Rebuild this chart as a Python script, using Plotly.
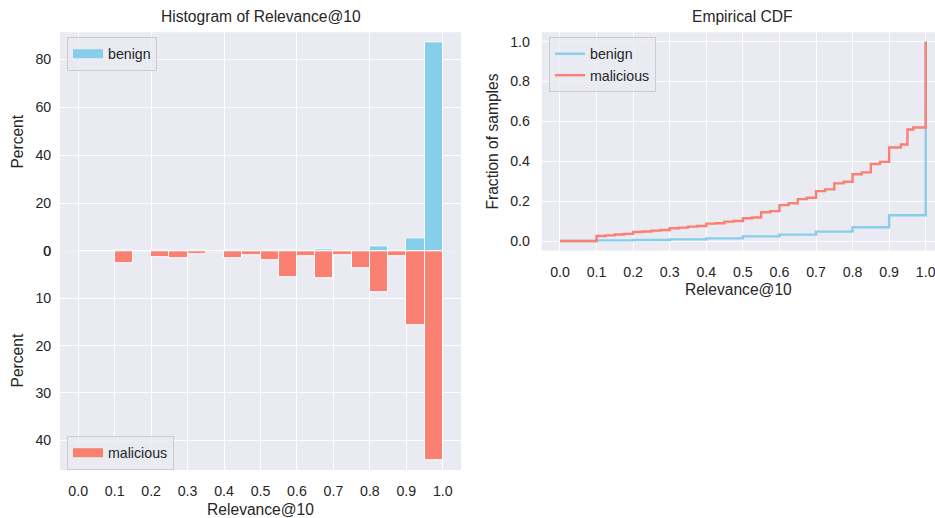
import plotly.graph_objects as go

# ---------------- data ----------------
bin_left = [0.00, 0.05, 0.10, 0.15, 0.20, 0.25, 0.30, 0.35, 0.40, 0.45,
            0.50, 0.55, 0.60, 0.65, 0.70, 0.75, 0.80, 0.85, 0.90, 0.95]
bin_width = 0.05
benign_pct = [0, 0, 0.3, 0, 0.2, 0, 0.3, 0, 0.4, 0,
              0.4, 0.4, 0, 0.9, 0, 0, 2.0, 0, 5.5, 86.9]
malicious_pct = [0, 0, 2.6, 0, 1.2, 1.5, 0.6, 0.2, 1.5, 0.85,
                 1.8, 5.5, 1.05, 5.7, 0.85, 3.6, 8.6, 1.05, 15.6, 44.2]

ecdf_benign_x = [0.0, 0.1, 0.2, 0.3, 0.4, 0.5, 0.6, 0.7, 0.8, 0.9, 1.0]
ecdf_benign_y = [0.0, 0.003, 0.005, 0.008, 0.013, 0.023, 0.032, 0.047, 0.069, 0.129, 1.0]

ecdf_mal_x = [0.0, 0.1, 0.125, 0.15, 0.175, 0.2, 0.225, 0.25, 0.275, 0.3, 0.325,
              0.35, 0.375, 0.4, 0.425, 0.45, 0.475, 0.5, 0.525, 0.55, 0.575,
              0.6, 0.625, 0.65, 0.675, 0.7, 0.725, 0.75, 0.775, 0.8, 0.825,
              0.85, 0.875, 0.9, 0.932, 0.95, 0.966, 1.0]
ecdf_mal_y = [0.0, 0.025, 0.028, 0.033, 0.036, 0.045, 0.048, 0.052, 0.055, 0.064, 0.067,
              0.072, 0.075, 0.087, 0.089, 0.097, 0.100, 0.114, 0.118, 0.144, 0.150,
              0.180, 0.189, 0.210, 0.217, 0.250, 0.259, 0.289, 0.297, 0.335, 0.344,
              0.386, 0.397, 0.469, 0.484, 0.559, 0.569, 1.0]

x_ticks_hist = [0.0, 0.1, 0.2, 0.3, 0.4, 0.5, 0.6, 0.7, 0.8, 0.9, 1.0]
x_ticks_top = [0.0, 0.2, 0.4, 0.6, 0.8, 1.0]
y_ticks_top = [0, 20, 40, 60, 80]
y_ticks_bottom = [0, 10, 20, 30, 40]
y_ticks_cdf = [0.0, 0.2, 0.4, 0.6, 0.8, 1.0]

# ---------------- style ----------------
W, H = 935, 518
BLUE = "#87CEEB"
RED = "#FA8072"
BG = "#EAEAF2"
TXT = "#262626"
FONT = "Liberation Sans, Arial, sans-serif"
TICK = 14.2
LAB = 15.6

def px_x(p):
    return p / W

def px_y(p):
    return 1 - p / H

centers = [b + bin_width / 2 for b in bin_left]

fig = go.Figure()

fig.add_trace(go.Bar(x=centers, y=benign_pct, width=bin_width,
                     marker=dict(color=BLUE, line=dict(color="white", width=1)),
                     xaxis="x", yaxis="y", showlegend=False, hoverinfo="skip"))
fig.add_trace(go.Bar(x=centers, y=malicious_pct, width=bin_width,
                     marker=dict(color=RED, line=dict(color="white", width=1)),
                     xaxis="x2", yaxis="y2", showlegend=False, hoverinfo="skip"))
# legend entries for the histograms (patch-like)
fig.add_trace(go.Scatter(x=[None], y=[None], mode="lines", name="benign",
                         line=dict(color=BLUE, width=9), xaxis="x", yaxis="y",
                         legend="legend"))
fig.add_trace(go.Scatter(x=[None], y=[None], mode="lines", name="malicious",
                         line=dict(color=RED, width=9), xaxis="x2", yaxis="y2",
                         legend="legend2"))

fig.add_trace(go.Scatter(x=ecdf_benign_x, y=ecdf_benign_y, mode="lines",
                         line=dict(color=BLUE, width=2.4, shape="hv"), name="benign",
                         xaxis="x3", yaxis="y3", legend="legend3", hoverinfo="skip"))
fig.add_trace(go.Scatter(x=ecdf_mal_x, y=ecdf_mal_y, mode="lines",
                         line=dict(color=RED, width=2.4, shape="hv"), name="malicious",
                         xaxis="x3", yaxis="y3", legend="legend3", hoverinfo="skip"))

left_dom = [px_x(60), px_x(461)]
right_dom = [px_x(541.7), 1.0]
mid = 251.2

common = dict(showgrid=True, gridcolor="white", gridwidth=1.2, zeroline=False,
              showline=False, tickcolor="rgba(0,0,0,0)", automargin=False,
              tickfont=dict(size=TICK, color=TXT, family=FONT))
lab_font = dict(size=LAB, color=TXT, family=FONT)

legend_common = dict(bgcolor="rgba(234,234,242,0.8)", bordercolor="#CCCCCC", borderwidth=1,
                     font=dict(size=TICK, color=TXT, family=FONT),
                     xanchor="left", yanchor="top", itemwidth=30,
                     tracegroupgap=2)

fig.update_layout(
    width=W, height=H,
    margin=dict(l=0, r=0, t=0, b=0, autoexpand=False),
    paper_bgcolor="white", plot_bgcolor=BG,
    font=dict(family=FONT, color=TXT),
    barmode="overlay", bargap=0,
    xaxis=dict(domain=left_dom, range=[-0.05, 1.05], tickvals=x_ticks_top,
               showticklabels=False, anchor="y", ticks="", **common),
    yaxis=dict(domain=[px_y(mid), px_y(32.3)], range=[0, 91.25], tickvals=y_ticks_top,
               anchor="x", ticks="outside", ticklen=5,
               title=dict(text="Percent", font=lab_font, standoff=7), **common),
    xaxis2=dict(domain=left_dom, range=[-0.05, 1.05], tickvals=x_ticks_hist,
                ticktext=[f"{v:.1f}" for v in x_ticks_hist], anchor="y2",
                ticks="outside", ticklen=8,
                title=dict(text="Relevance@10", font=lab_font, standoff=7), **common),
    yaxis2=dict(domain=[px_y(470), px_y(mid)], range=[46.3, 0], tickvals=y_ticks_bottom,
                anchor="x2", ticks="outside", ticklen=5,
                title=dict(text="Percent", font=lab_font, standoff=7), **common),
    xaxis3=dict(domain=right_dom, range=[-0.05, 1.05 - 9 / 365.7], tickvals=x_ticks_hist,
                ticktext=[f"{v:.1f}" for v in x_ticks_hist], anchor="y3",
                ticks="outside", ticklen=8, ticklabeloverflow="allow",
                title=dict(text="Relevance@10", font=lab_font, standoff=5), **common),
    yaxis3=dict(domain=[px_y(250.7), px_y(32.3)], range=[-0.0486, 1.0466], tickvals=y_ticks_cdf,
                ticktext=[f"{v:.1f}" for v in y_ticks_cdf], anchor="x3",
                ticks="outside", ticklen=8,
                title=dict(text="Fraction of samples", font=lab_font, standoff=7), **common),
    legend=dict(x=px_x(67), y=px_y(37), **legend_common),
    legend2=dict(x=px_x(67), y=px_y(436), **legend_common),
    legend3=dict(x=px_x(549), y=px_y(37), **legend_common),
    annotations=[
        dict(text="Histogram of Relevance@10", x=px_x(260.5), y=px_y(27), xref="paper", yref="paper",
             xanchor="center", yanchor="bottom", showarrow=False, font=lab_font),
        dict(text="Empirical CDF", x=px_x(742.9), y=px_y(27), xref="paper", yref="paper",
             xanchor="center", yanchor="bottom", showarrow=False, font=lab_font),
    ],
)

fig.write_html("out.html", config={"displayModeBar": False},
               post_script="document.body.style.margin='0px';document.body.style.overflow='hidden';")
